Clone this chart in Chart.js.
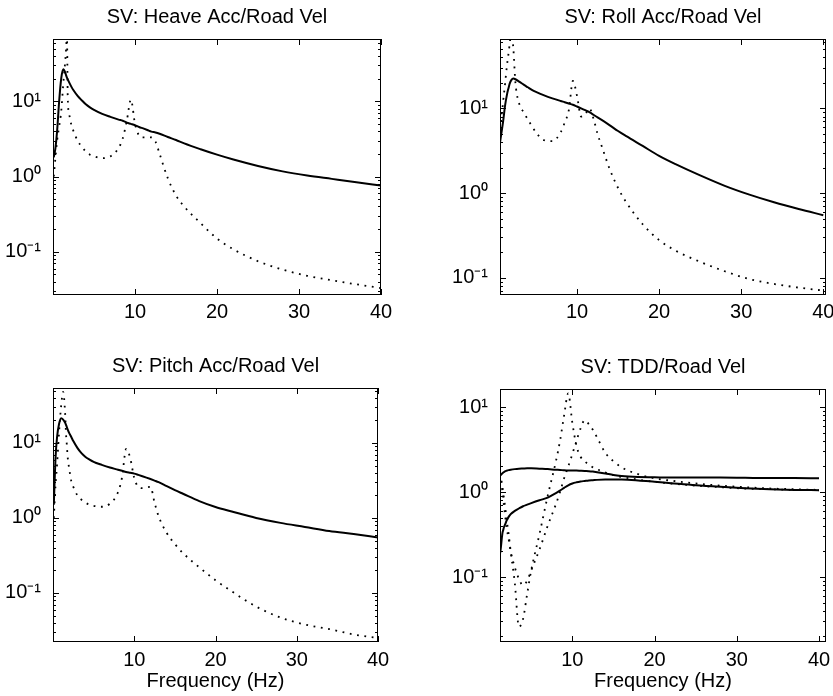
<!DOCTYPE html>
<html>
<head>
<meta charset="utf-8">
<script src="https://cdn.jsdelivr.net/npm/chart.js@4.4.1/dist/chart.umd.min.js"></script>
<style>
  html, body { margin:0; padding:0; background:#fff; }
  body { width:833px; height:696px; overflow:hidden; position:relative; }
  canvas { position:absolute; }
</style>
</head>
<body>
<canvas id="heave"></canvas>
<canvas id="roll"></canvas>
<canvas id="pitch"></canvas>
<canvas id="tdd"></canvas>
<script>
// frequency grid (Hz) shared by every curve
const freqs = [0.1, 0.3, 0.5, 0.75, 1, 1.25, 1.5, 1.6, 1.7, 1.8, 2, 2.25, 2.5, 3, 3.5, 4, 4.5, 5, 6, 7, 8, 8.5, 9, 9.5, 10,
  10.5, 11, 11.5, 12, 12.5, 13, 14, 15, 16, 18, 20, 22, 25, 28, 31, 34, 37, 40];

// singular values
const heaveSolid = [1.8, 2.4, 4, 10, 20, 26.5, 24, 22, 20.5, 19.5, 17.5, 15.5, 14, 11.8, 10.3, 9.1, 8.3, 7.7, 6.8, 6.2, 5.7, 5.5, 5.2, 5.0, 4.8,
  4.55, 4.35, 4.15, 3.95, 3.85, 3.7, 3.35, 3.05, 2.75, 2.3, 1.95, 1.68, 1.38, 1.17, 1.03, 0.93, 0.84, 0.76];
const heaveDotted = [1.0, 1.8, 3.0, 4.6, 7.3, 17, 35, 50, 75, 11, 6.5, 4.8, 4.0, 3.0, 2.5, 2.15, 1.95, 1.85, 1.75, 1.85, 2.4, 3.2, 5.5, 10.5, 5.0,
  3.5, 3.3, 3.3, 3.3, 2.9, 2.0, 0.95, 0.56, 0.4, 0.24, 0.15, 0.108, 0.075, 0.058, 0.048, 0.042, 0.037, 0.033];

const rollSolid = [1, 2, 3.2, 4.8, 7, 11, 15, 16.5, 18, 19.5, 21.5, 22.4, 22, 20.5, 19, 17.7, 16.5, 15.6, 14.2, 13.1, 12.2, 11.8, 11.4, 11.0, 10.5,
  10.0, 9.5, 9.0, 8.4, 7.8, 7.3, 6.3, 5.4, 4.7, 3.6, 2.75, 2.2, 1.62, 1.22, 0.96, 0.78, 0.65, 0.55];
const rollDotted = [1.5, 2.5, 3.8, 7, 12, 20, 34, 40, 48, 57, 80, 50, 20, 11, 9.0, 7.4, 6.2, 5.2, 4.2, 4.1, 5.2, 6.8, 9.5, 21, 14,
  8, 8.5, 10, 7.6, 5.0, 3.6, 1.9, 1.15, 0.78, 0.43, 0.28, 0.21, 0.155, 0.12, 0.097, 0.085, 0.077, 0.071];

const pitchSolid = [1.5, 6, 12, 18, 21.4, 20.5, 18.5, 17.4, 16.3, 15.2, 13.5, 12, 10.6, 8.6, 7.3, 6.5, 6.0, 5.6, 5.1, 4.7, 4.4, 4.25, 4.1, 4.0, 3.9,
  3.75, 3.6, 3.45, 3.3, 3.15, 3.0, 2.65, 2.35, 2.1, 1.68, 1.4, 1.22, 1.0, 0.86, 0.76, 0.67, 0.61, 0.55];
const pitchDotted = [1.0, 2.6, 5.2, 14, 31, 48, 24, 13.4, 9.5, 6.6, 4.5, 3.1, 2.6, 2.0, 1.75, 1.6, 1.5, 1.45, 1.41, 1.55, 2.2, 3.5, 8.3, 6.3, 3.4,
  2.6, 2.5, 2.55, 2.6, 1.6, 1.05, 0.63, 0.45, 0.34, 0.22, 0.148, 0.105, 0.066, 0.047, 0.038, 0.033, 0.028, 0.025];

const tddSolidUpper = [1.3, 1.35, 1.4, 1.45, 1.5, 1.58, 1.66, 1.7, 1.72, 1.75, 1.78, 1.81, 1.83, 1.86, 1.88, 1.89, 1.9, 1.9, 1.88, 1.86, 1.83, 1.82, 1.8, 1.79, 1.79,
  1.79, 1.78, 1.77, 1.76, 1.74, 1.71, 1.65, 1.59, 1.54, 1.5, 1.49, 1.48, 1.48, 1.48, 1.47, 1.46, 1.46, 1.45];
const tddSolidLower = [0.05, 0.08, 0.1, 0.12, 0.15, 0.2, 0.33, 0.36, 0.39, 0.41, 0.46, 0.51, 0.55, 0.6, 0.64, 0.68, 0.71, 0.74, 0.8, 0.86, 0.97, 1.04, 1.12, 1.2, 1.26,
  1.3, 1.33, 1.35, 1.37, 1.38, 1.39, 1.4, 1.4, 1.4, 1.37, 1.32, 1.27, 1.2, 1.15, 1.11, 1.08, 1.06, 1.05];
const tddDottedA = [3, 2.8, 2.6, 2.3, 2.0, 1.6, 1.15, 0.98, 0.82, 0.7, 0.48, 0.32, 0.2, 0.085, 0.026, 0.032, 0.063, 0.12, 0.32, 0.9, 2.3, 4.0, 8, 14.5, 6.5,
  3.5, 2.6, 2.3, 2.1, 1.95, 1.85, 1.7, 1.58, 1.5, 1.4, 1.32, 1.26, 1.19, 1.14, 1.1, 1.08, 1.06, 1.05];
const tddDottedB = [3, 2.8, 2.6, 2.3, 2.0, 1.5, 1.0, 0.82, 0.66, 0.55, 0.38, 0.28, 0.2, 0.13, 0.095, 0.08, 0.09, 0.12, 0.21, 0.4, 0.72, 1.0, 1.45, 2.0, 2.8,
  4.0, 5.6, 7.0, 6.3, 5.4, 4.4, 2.9, 2.3, 1.95, 1.62, 1.45, 1.36, 1.26, 1.19, 1.14, 1.1, 1.08, 1.06];

// axis ticks
const xTickValues = [10, 20, 30, 40];
const yTickValues = [0.1, 1, 10];
const yTickLabels = ["10\u207B\u00B9", "10\u2070", "10\u00B9"];

Chart.defaults.font.family = '"Liberation Sans", Arial, Helvetica, sans-serif';
Chart.defaults.color = "#000";

/* ---------- matlab style box with inward ticks ---------- */
const boxTicks = {
  id: "boxTicks",
  afterDatasetsDraw(chart) {
    const { ctx, chartArea: a, scales: { x, y } } = chart;
    ctx.save();
    ctx.strokeStyle = "#000";
    ctx.lineWidth = 1;
    ctx.strokeRect(a.left + 0.5, a.top + 0.5, a.width - 1, a.height - 1);
    ctx.beginPath();
    xTickValues.forEach(v => {
      if (v < x.min || v > x.max) return;
      const px = Math.round(x.getPixelForValue(v)) + 0.5;
      ctx.moveTo(px, a.bottom); ctx.lineTo(px, a.bottom - 6);
      ctx.moveTo(px, a.top); ctx.lineTo(px, a.top + 6);
    });
    const d0 = Math.floor(Math.log10(y.min)), d1 = Math.ceil(Math.log10(y.max));
    for (let d = d0; d <= d1; d++) {
      for (let k = 1; k <= 9; k++) {
        const v = k * Math.pow(10, d);
        if (v < y.min || v > y.max) continue;
        const py = Math.round(y.getPixelForValue(v)) + 0.5;
        const len = k === 1 ? 6 : 3;
        ctx.moveTo(a.left, py); ctx.lineTo(a.left + len, py);
        ctx.moveTo(a.right, py); ctx.lineTo(a.right - len, py);
      }
    }
    ctx.stroke();
    ctx.restore();
  }
};

function series(vals, dotted) {
  return {
    data: freqs.map((f, i) => ({ x: f, y: vals[i] })),
    borderColor: "#000",
    borderWidth: dotted ? 1.8 : 2,
    borderDash: dotted ? [1.8, 5.6] : [],
    pointRadius: 0,
    cubicInterpolationMode: "monotone",
    fill: false
  };
}

function makePanel(id, p) {
  const W = p.r - p.l, H = p.b - p.t;
  const el = document.getElementById(id);
  el.width = 52 + W + 20;
  el.height = 40 + H + p.xb;
  el.style.left = (p.l - 52) + "px";
  el.style.top = (p.t - 40) + "px";

  return new Chart(el, {
    type: "line",
    data: { datasets: p.datasets },
    options: {
      responsive: false,
      devicePixelRatio: 1,
      animation: false,
      layout: { padding: { left: 0, right: 20, top: 0, bottom: 0 } },
      plugins: {
        legend: { display: false },
        tooltip: { enabled: false },
        title: {
          display: true,
          text: p.title,
          fullSize: false,
          font: { size: 20, weight: "normal", lineHeight: 1.2 },
          color: "#000",
          padding: { top: 6, bottom: 10 }
        }
      },
      scales: {
        x: {
          type: "linear",
          min: p.xmin, max: p.xmax,
          grid: { display: false, drawTicks: false },
          border: { display: false },
          afterBuildTicks: s => { s.ticks = xTickValues.filter(v => v >= s.min && v <= s.max).map(v => ({ value: v })); },
          afterFit: s => { s.height = p.xb; },
          ticks: { autoSkip: false, maxRotation: 0, padding: p.xpad, font: { size: 20 }, color: "#000", callback: v => String(v) },
          title: {
            display: p.xTitle,
            text: "Frequency (Hz)",
            font: { size: 20, lineHeight: 1.2 },
            color: "#000",
            padding: { top: 0, bottom: 3 }
          }
        },
        y: {
          type: "logarithmic",
          min: p.ymin, max: p.ymax,
          grid: { display: false, drawTicks: false },
          border: { display: false },
          afterBuildTicks: s => { s.ticks = yTickValues.filter(v => v >= s.min && v <= s.max).map(v => ({ value: v })); },
          afterFit: s => { s.width = 52; },
          ticks: {
            autoSkip: false, padding: 12, font: { size: 20 }, color: "#000",
            callback: v => yTickLabels[yTickValues.indexOf(v)]
          }
        }
      }
    },
    plugins: [boxTicks]
  });
}

makePanel("heave", {
  title: "SV: Heave Acc/Road Vel", l: 53, t: 39, r: 381, b: 295, xb: 32, xpad: 5, xTitle: false,
  xmin: 0, xmax: 40, ymin: 0.0267, ymax: 67,
  datasets: [series(heaveDotted, true), series(heaveSolid, false)]
});
makePanel("roll", {
  title: "SV: Roll Acc/Road Vel", l: 500, t: 39, r: 826, b: 295, xb: 32, xpad: 5, xTitle: false,
  xmin: 0.62, xmax: 40.33, ymin: 0.063, ymax: 65.6,
  datasets: [series(rollDotted, true), series(rollSolid, false)]
});
makePanel("pitch", {
  title: "SV: Pitch Acc/Road Vel", l: 53, t: 388, r: 378, b: 642, xb: 54, xpad: 6.5, xTitle: true,
  xmin: 0, xmax: 40, ymin: 0.0222, ymax: 54,
  datasets: [series(pitchDotted, true), series(pitchSolid, false)]
});
makePanel("tdd", {
  title: "SV: TDD/Road Vel", l: 500, t: 389, r: 826, b: 642, xb: 54, xpad: 6.5, xTitle: true,
  xmin: 1.2, xmax: 40.85, ymin: 0.0172, ymax: 16.3,
  datasets: [series(tddDottedA, true), series(tddDottedB, true), series(tddSolidUpper, false), series(tddSolidLower, false)]
});
</script>
</body>
</html>
